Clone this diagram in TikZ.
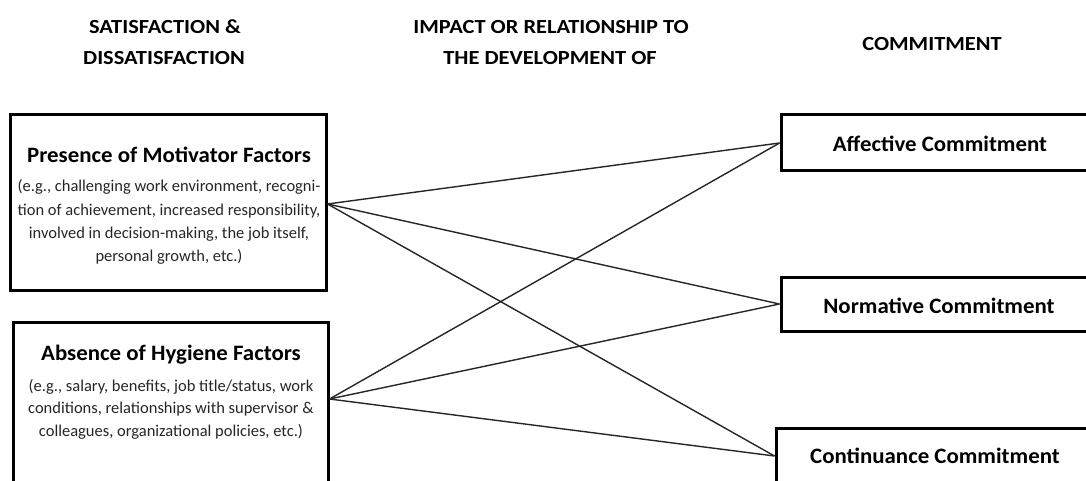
\documentclass[tikz,border=0pt]{standalone}
\usepackage{fontspec}
\setmainfont{Carlito}
\newfontfamily\headfont[FakeStretch=1.12]{Carlito}
\newfontfamily\ttlfont[FakeStretch=1.04]{Carlito}
\begin{document}
\begin{tikzpicture}[x=1pt,y=-1pt,
  box/.style={draw=black, line width=3pt, fill=white, inner sep=0pt},
  head/.style={font=\headfont\bfseries\fontsize{20}{30}\selectfont, anchor=base, inner sep=0pt},
  ttl/.style={font=\ttlfont\bfseries\fontsize{22}{23}\selectfont, anchor=base, inner sep=0pt},
  body/.style={font=\fontsize{16.5}{23}\selectfont, anchor=base, inner sep=0pt, text=black!85},
  link/.style={line width=1.4pt, black!85}]
\useasboundingbox (0,0) rectangle (1086,481);
% headers
\node[head] (h1a) at (165,34) {SATISFACTION \&};
\node[head] (h1b) at (164,65) {DISSATISFACTION};
\node[head] (h2a) at (551,34) {IMPACT OR RELATIONSHIP TO};
\node[head] (h2b) at (550,65) {THE DEVELOPMENT OF};
\node[head] (h3) at (932,51) {COMMITMENT};
% boxes
\node[box, minimum width=316, minimum height=175] (M) at (168,202.5) {};
\node[box, minimum width=315, minimum height=170] (H) at (170.5,407) {};
\node[box, minimum width=312, minimum height=56] (A) at (937,143) {};
\node[box, minimum width=312, minimum height=54] (N) at (937,304) {};
\node[box, minimum width=318, minimum height=56] (C) at (935,456) {};
% texts
\node[ttl] (Mt) at (169,163) {Presence of Motivator Factors};
\node[body] (M1) at (169,192) {(e.g., challenging work environment, recogni-};
\node[body] (M2) at (169,215) {tion of achievement, increased responsibility,};
\node[body] (M3) at (169,238) {involved in decision-making, the job itself,};
\node[body] (M4) at (169,261) {personal growth, etc.)};
\node[ttl] (Ht) at (171,360) {Absence of Hygiene Factors};
\node[body] (H1) at (171,391) {(e.g., salary, benefits, job title/status, work};
\node[body] (H2) at (171,413) {conditions, relationships with supervisor \&};
\node[body] (H3) at (171,436) {colleagues, organizational policies, etc.)};
\node[ttl] (At) at (940,152) {Affective Commitment};
\node[ttl] (Nt) at (939,313) {Normative Commitment};
\node[ttl] (Ct) at (935,463) {Continuance Commitment};
% connectors
\coordinate (Mo) at ([yshift=-1.5pt]M.east);
\coordinate (Ho) at ([yshift=8pt]H.east);
\draw[link] (Mo) -- (A.west);
\draw[link] (Mo) -- (N.west);
\draw[link] (Mo) -- (C.west);
\draw[link] (Ho) -- (A.west);
\draw[link] (Ho) -- (N.west);
\draw[link] (Ho) -- (C.west);
\end{tikzpicture}
\end{document}
